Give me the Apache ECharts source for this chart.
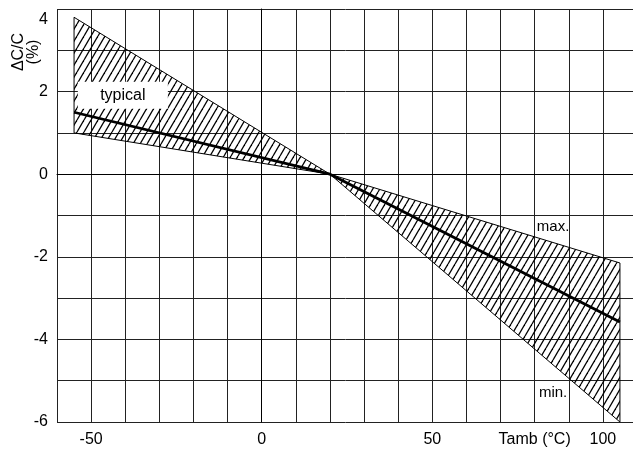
<!DOCTYPE html>
<html>
<head>
<meta charset="utf-8">
<script src="https://cdn.jsdelivr.net/npm/echarts@6/dist/echarts.min.js"></script>
<style>
html,body{margin:0;padding:0;background:#fff;}
#chart{width:633px;height:450px;}
</style>
</head>
<body>
<div id="chart"></div>
<script>
// band corners (temperature, % change)
var bandX = [-55, 20, 105];
var maxVals = [3.8, 0, -2.15];
var minVals = [1.0, 0, -6.0];
var typicalVals = [1.5, 0, -3.58];

var xTickLabels = {'-50': '-50', '0': '0', '50': '50', '80': 'Tamb (°C)', '100': '100'};
var yTickLabels = [-6, -4, -2, 0, 2, 4];

var FONT = '"Liberation Sans", Arial, Helvetica, sans-serif';

// diagonal hatch tile
var hatch = document.createElement('canvas');
hatch.width = 7;
hatch.height = 12;
var hctx = hatch.getContext('2d');
hctx.strokeStyle = '#000';
hctx.lineWidth = 1.3;
for (var k = -1; k <= 1; k++) {
    hctx.beginPath();
    hctx.moveTo(k * 7, 12);
    hctx.lineTo(k * 7 + 7, 0);
    hctx.stroke();
}

var typicalData = [];
for (var i = 0; i < bandX.length; i++) {
    typicalData.push([bandX[i], typicalVals[i]]);
}

var chart = echarts.init(document.getElementById('chart'));

var option = {
    animation: false,
    backgroundColor: '#fff',
    grid: {
        left: 57,
        top: 9,
        width: 580,
        height: 413,
        containLabel: false,
        outerBoundsMode: 'none'
    },
    xAxis: {
        type: 'value',
        min: -60,
        max: 110,
        interval: 10,
        axisLine: {lineStyle: {color: '#000', width: 1}},
        axisTick: {show: false},
        splitLine: {show: true, lineStyle: {color: '#222', width: 1}},
        axisLabel: {
            color: '#000',
            fontSize: 16,
            fontFamily: FONT,
            margin: 10,
            showMaxLabel: true,
            formatter: function (v) {
                return xTickLabels[String(v)] || '';
            }
        }
    },
    yAxis: {
        type: 'value',
        min: -6,
        max: 4,
        interval: 1,
        axisLine: {show: true, lineStyle: {color: '#000', width: 1}},
        axisTick: {show: false},
        splitLine: {show: true, lineStyle: {color: '#222', width: 1}},
        axisLabel: {
            color: '#000',
            fontSize: 16,
            fontFamily: FONT,
            margin: 9,
            formatter: function (v) {
                if (yTickLabels.indexOf(v) < 0) return '';
                if (v === 4) return '{t|4}';
                return String(v);
            },
            rich: {
                t: {
                    color: '#000',
                    fontSize: 16,
                    fontFamily: FONT,
                    padding: [21, 0, 0, 0]
                }
            }
        }
    },
    series: [
        {
            type: 'custom',
            silent: true,
            data: [[0, 0]],
            renderItem: function (params, api) {
                var pts = [];
                for (var i = 0; i < bandX.length; i++) {
                    pts.push(api.coord([bandX[i], maxVals[i]]));
                }
                for (var j = bandX.length - 1; j >= 0; j--) {
                    pts.push(api.coord([bandX[j], minVals[j]]));
                }
                return {
                    type: 'polygon',
                    shape: {points: pts},
                    style: {
                        fill: {image: hatch, repeat: 'repeat'},
                        stroke: '#000',
                        lineWidth: 1
                    }
                };
            },
            z: 2
        },
        {
            type: 'line',
            data: typicalData,
            symbol: 'none',
            lineStyle: {color: '#000', width: 2.8},
            z: 3
        }
    ]
};

chart.setOption(option);

// annotations placed in data coordinates
function px(x, y) {
    return chart.convertToPixel({gridIndex: 0}, [x, y]);
}
var pTyp = px(-40.7, 1.9);
var pMax = px(85.4, -1.27);
var pMin = px(85.4, -5.3);

chart.setOption({
    graphic: [
        {
            type: 'rect',
            z: 100,
            shape: {x: pTyp[0] - 45, y: pTyp[1] - 14, width: 90, height: 27},
            style: {fill: '#fff'}
        },
        {
            type: 'text',
            z: 101,
            x: pTyp[0],
            y: pTyp[1],
            style: {text: 'typical', fill: '#000', font: '16px ' + FONT, align: 'center', verticalAlign: 'middle'}
        },
        {
            type: 'text',
            z: 101,
            x: pMax[0],
            y: pMax[1],
            style: {text: 'max.', fill: '#000', font: '15px ' + FONT, align: 'center', verticalAlign: 'middle'}
        },
        {
            type: 'text',
            z: 101,
            x: pMin[0],
            y: pMin[1],
            style: {text: 'min.', fill: '#000', font: '15px ' + FONT, align: 'center', verticalAlign: 'middle'}
        },
        {
            type: 'text',
            z: 101,
            x: 26,
            y: 52,
            rotation: Math.PI / 2,
            style: {text: 'ΔC/C\n(%)', fill: '#000', font: '16px ' + FONT, lineHeight: 15, align: 'center', verticalAlign: 'middle'}
        }
    ]
});
</script>
</body>
</html>
